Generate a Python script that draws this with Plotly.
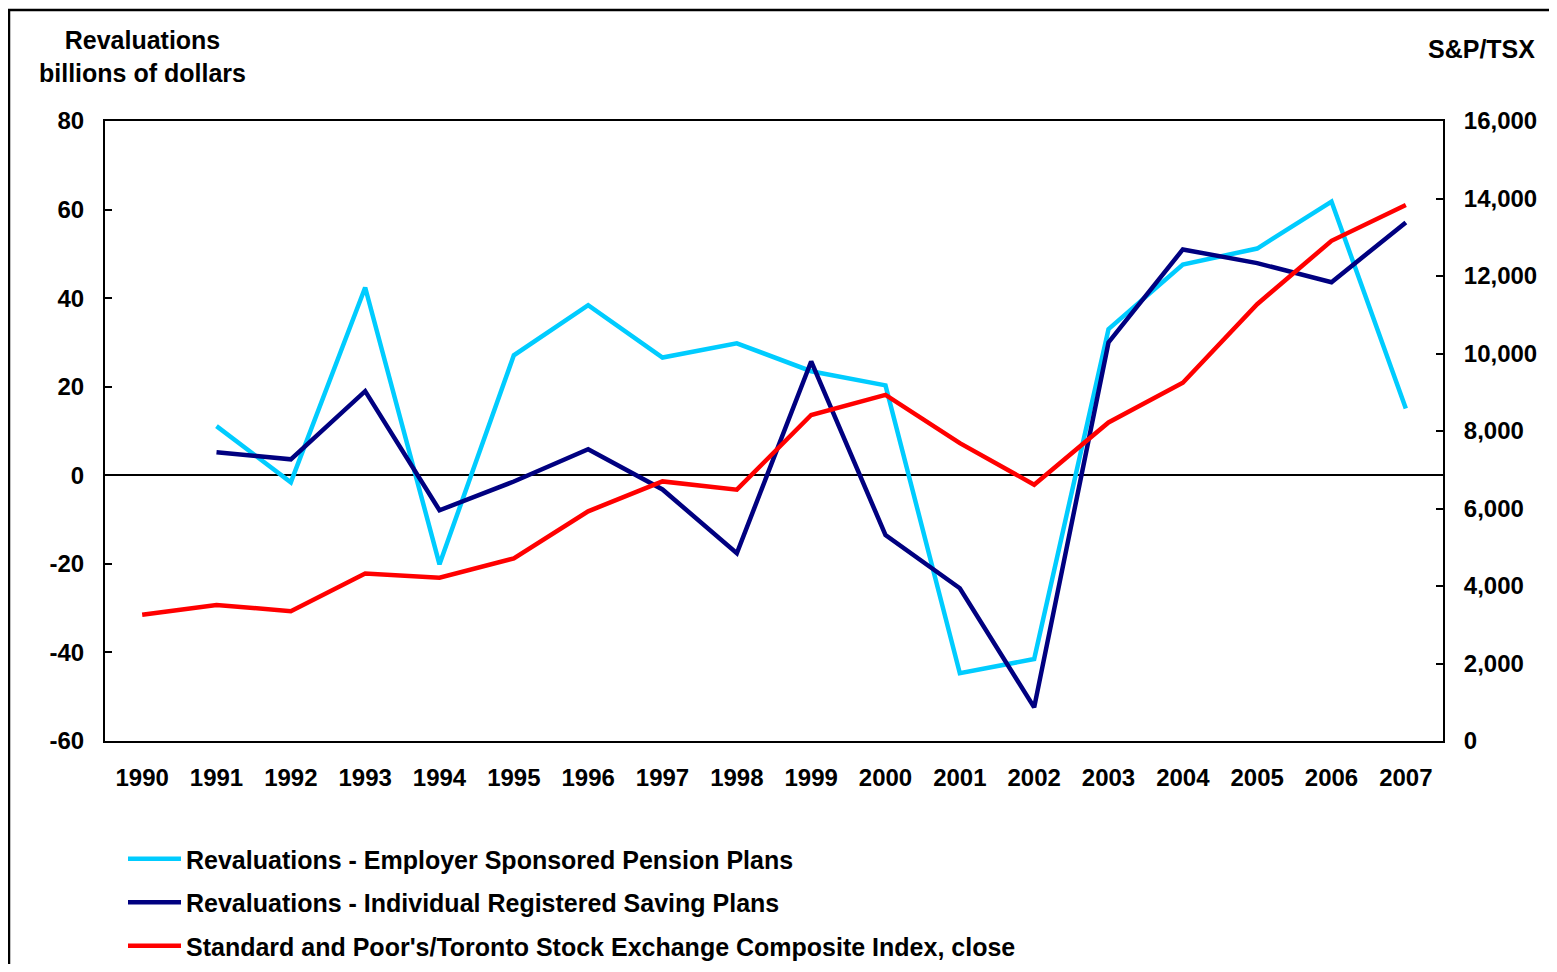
import plotly.graph_objects as go

years = [str(y) for y in range(1990, 2008)]
espp = [None, 11.1, -1.6, 42.4, -20.1, 27.1, 38.4, 26.6, 29.8, 23.5, 20.3, -44.7, -41.5, 33.0, 47.6, 51.2, 61.8, 15.1]
irsp = [None, 5.2, 3.6, 19.0, -7.9, -1.4, 5.9, -3.2, -17.6, 25.7, -13.5, -25.5, -52.4, 30.0, 51.0, 47.9, 43.6, 57.1]
tsx = [3257, 3512, 3350, 4321, 4214, 4714, 5927, 6699, 6486, 8414, 8934, 7688, 6615, 8221, 9247, 11272, 12908, 13833]

left_ticks = [-60, -40, -20, 0, 20, 40, 60, 80]
left_ticktext = ["-60", "-40", "-20", "0", "20", "40", "60", "80"]

names = [
    "Revaluations - Employer Sponsored Pension Plans",
    "Revaluations - Individual Registered Saving Plans",
    "Standard and Poor's/Toronto Stock Exchange Composite Index, close",
]
colors = ["#00CCFF", "#000080", "#FF0000"]

FONT = "Liberation Sans, Arial, sans-serif"

def f(size=24):
    return dict(family=FONT, size=size, color="black", weight="bold")

fig = go.Figure()
fig.add_trace(go.Scatter(x=years, y=espp, mode="lines", name=names[0], legendgroup="a",
                         line=dict(color=colors[0], width=4.5), connectgaps=False))
fig.add_trace(go.Scatter(x=years, y=irsp, mode="lines", name=names[1], legendgroup="b",
                         line=dict(color=colors[1], width=4.5), connectgaps=False))
fig.add_trace(go.Scatter(x=years, y=tsx, mode="lines", name=names[2], legendgroup="c", yaxis="y2",
                         line=dict(color=colors[2], width=4.5)))

OFF = 8  # page body margin
W, H = 1541, 956
L, R, T, B = 105 - OFF, 1443 - OFF, 121 - OFF, 741 - OFF
pw, ph = R - L, B - T

def px(x):
    return (x - OFF - L) / pw

def py(y):
    return (B - (y - OFF)) / ph

def cy(y):
    return 1 - (y - OFF) / H

fig.update_layout(
    width=W, height=H,
    margin=dict(l=L, r=W - R, t=T, b=H - B),
    paper_bgcolor="white", plot_bgcolor="white",
    font=f(),
    showlegend=True,
    legend=dict(
        x=px(123), y=cy(836), xanchor="left", yanchor="top", yref="container",
        font=f(25),
        bgcolor="rgba(0,0,0,0)", tracegroupgap=8,
        itemwidth=53,
    ),
    xaxis=dict(
        type="category", range=[-0.5, 17.5], showgrid=False, zeroline=False,
        showline=True, linecolor="black", linewidth=2, mirror=True,
        ticks="", ticklabelstandoff=14,
        tickfont=f(),
    ),
    yaxis=dict(
        range=[-60, 80], tickmode="array", tickvals=left_ticks, ticktext=left_ticktext,
        showgrid=False,
        zeroline=True, zerolinecolor="black", zerolinewidth=1.5,
        showline=True, linecolor="black", linewidth=2,
        ticks="inside", ticklen=7, tickwidth=2, tickcolor="black",
        ticklabelstandoff=14,
        tickfont=f(),
    ),
    yaxis2=dict(
        range=[0, 16000], dtick=2000, overlaying="y", side="right",
        showgrid=False, zeroline=False, tickformat=",d",
        showline=True, linecolor="black", linewidth=2,
        ticks="inside", ticklen=7, tickwidth=2, tickcolor="black",
        ticklabelstandoff=14,
        tickfont=f(),
    ),
    annotations=[
        dict(text="Revaluations<br>billions of dollars", xref="paper", yref="paper",
             x=px(142), y=py(56), xanchor="center", yanchor="middle", showarrow=False,
             align="center", font=f(25)),
        dict(text="S&P/TSX", xref="paper", yref="paper",
             x=px(1537), y=py(49), xanchor="right", yanchor="middle", showarrow=False,
             font=f(25)),
    ],
    shapes=[
        dict(type="rect", xref="paper", yref="paper",
             x0=px(9), x1=px(1620), y0=py(1040), y1=py(10),
             line=dict(color="black", width=2.5), fillcolor="rgba(0,0,0,0)", layer="below"),
    ],
)

fig.write_html("out.html")
